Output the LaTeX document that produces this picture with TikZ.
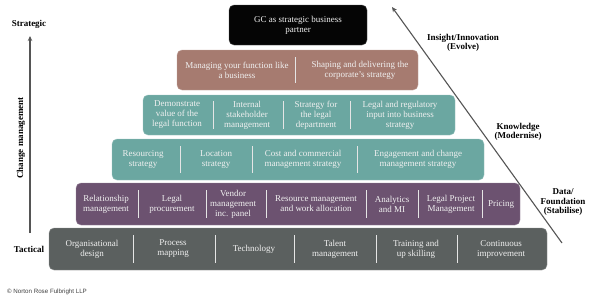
\documentclass[tikz,border=0pt]{standalone}
\usepackage{fontspec}
\setmainfont{Liberation Serif}
\setsansfont{Liberation Sans}
\usetikzlibrary{arrows.meta}
\definecolor{cblack}{HTML}{050505}
\definecolor{cbrown}{HTML}{A67B70}
\definecolor{cteal}{HTML}{6BA7A1}
\definecolor{cpurple}{HTML}{6C5270}
\definecolor{cgrey}{HTML}{5B605F}
\definecolor{cline}{HTML}{555555}
\begin{document}
\begin{tikzpicture}[x=1pt,y=-1pt,
  layer/.style={rounded corners=5pt, inner sep=0pt, fill=#1, draw=#1!70!white},
  txt/.style={text=white!94!black, align=center, font=\fontsize{9}{10}\selectfont, inner sep=0pt},
  sepline/.style={draw=white!90!black, line width=0.8pt},
  lab/.style={font=\bfseries\fontsize{9}{9.5}\selectfont, align=center, inner sep=0pt, text=black},
  axis/.style={draw=cline, line width=1.3pt, -{Stealth[length=5pt,width=4.5pt]}}]
\useasboundingbox (0,0) rectangle (600,298);
% layers
\node[layer=cblack, minimum width=138pt, minimum height=40pt] (gc) at (298,25) {};
\node[layer=cbrown, minimum width=241pt, minimum height=40pt] (br) at (297.5,70) {};
\node[layer=cteal, minimum width=312pt, minimum height=40pt] (t1) at (299,115) {};
\node[layer=cteal, minimum width=372pt, minimum height=41pt] (t2) at (298,159.5) {};
\node[layer=cpurple, minimum width=444pt, minimum height=42pt] (pu) at (298,204) {};
\node[layer=cgrey, minimum width=498pt, minimum height=42pt] (dg) at (298,249) {};
% top
\node[txt] (gct) at (298,25) {GC as strategic business\\partner};
% brown
\node[txt] (b1) at (237,70) {Managing your function like\\a business};
\node[txt] (b2) at (360,70) {Shaping and delivering the\\corporate's strategy};
\draw[sepline] (295,57) -- (295,83);
% teal 1
\node[txt] (a1) at (177,115) {Demonstrate\\value of the\\legal function};
\node[txt] (a2) at (247,115) {Internal\\stakeholder\\management};
\node[txt] (a3) at (316,115) {Strategy for\\the legal\\department};
\node[txt] (a4) at (400,115) {Legal and regulatory\\input into business\\strategy};
\foreach \x in {213,283,350} \draw[sepline] (\x,101) -- (\x,129);
% teal 2
\node[txt] (c1) at (143,159.5) {Resourcing\\strategy};
\node[txt] (c2) at (216,159.5) {Location\\strategy};
\node[txt] (c3) at (303,159.5) {Cost and commercial\\management strategy};
\node[txt] (c4) at (418,159.5) {Engagement and change\\management strategy};
\foreach \x in {180,252,357} \draw[sepline] (\x,146) -- (\x,173);
% purple
\node[txt] (d1) at (106,204) {Relationship\\management};
\node[txt] (d2) at (172,204) {Legal\\procurement};
\node[txt] (d3) at (233,204) {Vendor\\management\\inc. panel};
\node[txt] (d4) at (316,204) {Resource management\\and work allocation};
\node[txt] (d5) at (392,204) {Analytics\\and MI};
\node[txt] (d6) at (451,204) {Legal Project\\Management};
\node[txt] (d7) at (501,204) {Pricing};
\foreach \x in {138,206,266,366,418,482} \draw[sepline] (\x,190) -- (\x,218);
% dark grey
\node[txt] (e1) at (92,249) {Organisational\\design};
\node[txt] (e2) at (173,249) {Process\\mapping};
\node[txt] (e3) at (254,249) {Technology};
\node[txt] (e4) at (335,249) {Talent\\management};
\node[txt] (e5) at (416,249) {Training and\\up skilling};
\node[txt] (e6) at (501,249) {Continuous\\improvement};
\foreach \x in {133,215,294,376,457} \draw[sepline] (\x,235) -- (\x,263);
% left axis
\coordinate (lb) at (30,233);
\coordinate (lt) at (30,36);
\draw[axis] (lb) -- (lt);
\node[lab] (strat) at (29,24) {Strategic};
\node[lab] (tact) at (29,249) {Tactical};
\node[lab, rotate=90] (chg) at (21,138) {Change management};
% diagonal axis
\coordinate (db) at (562,243);
\coordinate (dt) at (392,7);
\draw[axis, line width=1.1pt] (db) -- (dt);
\node[lab] (ins) at (463,43) {Insight/Innovation\\(Evolve)};
\node[lab] (kno) at (518,132) {Knowledge\\(Modernise)};
\node[lab] (dat) at (563,202) {Data/\\Foundation\\(Stabilise)};
% copyright
\node[font=\sffamily\fontsize{6.2}{7}\selectfont, text=black!75, anchor=west, inner sep=0pt] (copy) at (7,292) {© Norton Rose Fulbright LLP};
\end{tikzpicture}
\end{document}
